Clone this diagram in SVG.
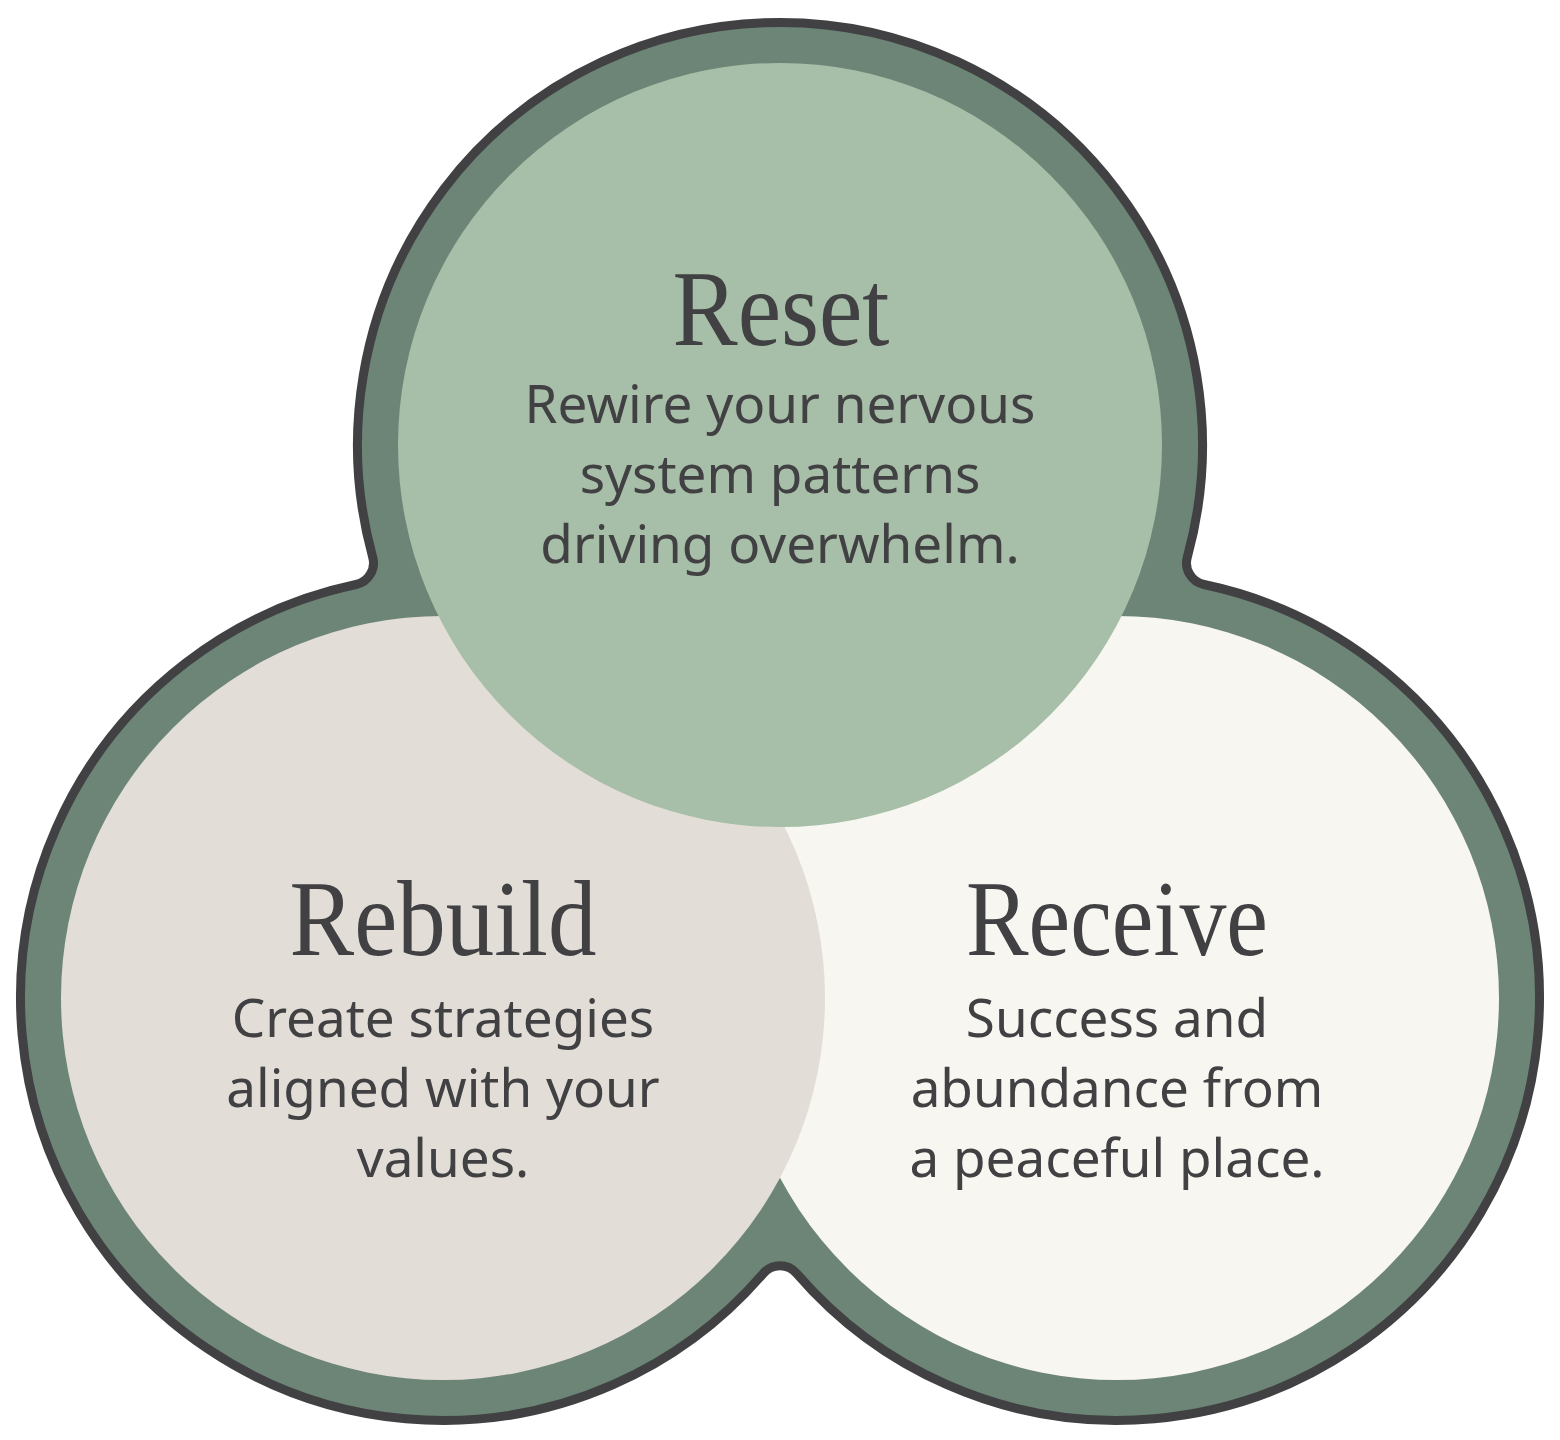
<svg xmlns="http://www.w3.org/2000/svg" width="1560" height="1440" viewBox="0 0 1560 1440">
<style>
.title{font-family:"Liberation Serif","DejaVu Serif",serif;font-size:108px;fill:#414143;text-anchor:middle}
.body{font-family:"Noto Sans","Open Sans",sans-serif;font-size:53px;fill:#414143;text-anchor:middle}
</style>
<rect width="1560" height="1440" fill="#ffffff"/>
<g id="frame">
<path d="M372.7 557.2 A422.5 422.5 0 1 1 1187.3 557.2 A22 22 0 0 0 1204 584.5 A422.5 422.5 0 1 1 796.7 1273.5 A22 22 0 0 0 763.3 1273.5 A422.5 422.5 0 1 1 356 584.5 A22 22 0 0 0 372.7 557.2 Z" fill="#6d8576" stroke="#414143" stroke-width="9" stroke-linejoin="round"/>
</g>
<g id="receive">
<circle cx="1117" cy="998" r="382" fill="#f8f6f1"/>
<text class="title" x="1117" y="955" textLength="302" lengthAdjust="spacingAndGlyphs">Receive</text>
<text class="body" x="1117" y="1037">Success and</text>
<text class="body" x="1117" y="1107">abundance from</text>
<text class="body" x="1117" y="1177">a peaceful place.</text>
</g>
<g id="rebuild">
<circle cx="443" cy="998" r="382" fill="#e2ded7"/>
<text class="title" x="443" y="955" textLength="307" lengthAdjust="spacingAndGlyphs">Rebuild</text>
<text class="body" x="443" y="1037">Create strategies</text>
<text class="body" x="443" y="1107">aligned with your</text>
<text class="body" x="443" y="1177">values.</text>
</g>
<g id="reset">
<circle cx="780" cy="445" r="382" fill="#a7bea8"/>
<text class="title" x="781" y="345" textLength="217" lengthAdjust="spacingAndGlyphs">Reset</text>
<text class="body" x="780" y="423">Rewire your nervous</text>
<text class="body" x="780" y="493">system patterns</text>
<text class="body" x="780" y="563">driving overwhelm.</text>
</g>
</svg>
